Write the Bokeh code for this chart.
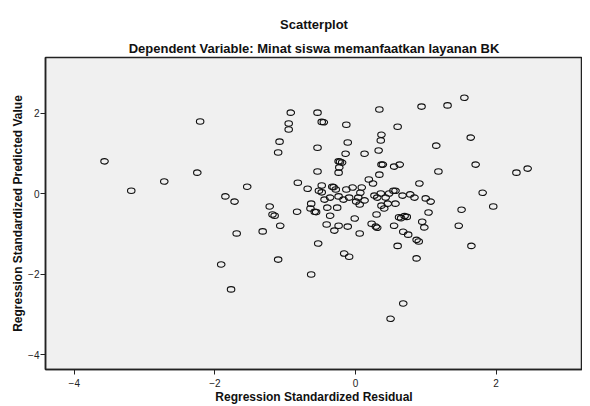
from bokeh.plotting import figure
from bokeh.models import Range1d, Title, FixedTicker, ColumnDataSource
from bokeh.embed import file_html
from bokeh.resources import INLINE

# Regression Standardized Residual (x) / Regression Standardized Predicted Value (y)
resid = [-2.21, -3.57, -3.19, -2.72, -2.25, -1.85, -1.72, -1.54, -1.69, -1.91, -1.77,
         -0.92, -0.54, 0.34, 0.94, -0.95, -0.95, -0.48, -0.45, -0.13, 0.60, 0.37, 0.36,
         -1.08, -0.11, -1.10, -0.54, -0.14, 0.13, 0.33, -0.24, -0.22, -0.19, 0.37, 0.39,
         -0.23, 0.55, 0.63, -0.24, -0.54, 0.34, 0.19, 0.25, 0.91, -0.82, -0.68, -0.48,
         -0.52, -0.48, -0.33, -0.31, -0.28, -0.13, -0.04, 0.09, 0.07, -0.44, -0.36, -0.24,
         -0.17, -0.09, 0.04, 0.01, 0.06, 0.13, 0.27, 0.31, 0.36, 0.43, 0.48, 0.54, 0.57,
         0.67, 0.78, 0.84, -0.63, -0.64, -0.58, -0.56, -0.40, -0.26, -0.36, -0.01, 0.30,
         0.37, 0.41, 0.46, 0.57, 0.62, 0.65, 0.70, 0.73, -1.22, -1.18, -1.15, -0.83, -1.07,
         -0.41, -0.24, -0.11, 0.23, 0.29, 0.31, 0.55, -1.32, -0.53, -1.10, -0.63, -0.16,
         -0.09, 0.06, -0.30, 0.68, 0.75, 0.60, 0.87, 0.90, 0.87, 0.68, 0.50, 0.95, 0.98,
         1.31, 1.55, 1.64, 1.15, 1.71, 1.18, 2.29, 2.45, 1.81, 1.00, 1.07, 1.96, 1.51,
         1.04, 1.47, 1.65]
pred = [1.79, 0.80, 0.07, 0.30, 0.52, -0.07, -0.20, 0.17, -0.99, -1.76, -2.38,
        2.01, 2.01, 2.09, 2.16, 1.74, 1.59, 1.78, 1.77, 1.71, 1.66, 1.46, 1.32,
        1.29, 1.27, 1.02, 1.14, 0.99, 0.99, 1.07, 0.80, 0.79, 0.77, 0.72, 0.72,
        0.65, 0.67, 0.72, 0.52, 0.55, 0.47, 0.35, 0.25, 0.25, 0.27, 0.12, 0.20,
        0.07, 0.03, 0.17, 0.16, 0.10, 0.10, 0.15, 0.15, 0.02, -0.15, -0.10, -0.07,
        -0.15, -0.10, -0.10, -0.20, -0.27, -0.17, -0.05, -0.10, 0.00, -0.10, 0.00, 0.07, 0.07,
        -0.05, -0.02, -0.10, -0.25, -0.37, -0.45, -0.46, -0.35, -0.35, -0.55, -0.62, -0.52,
        -0.30, -0.37, -0.25, -0.25, -0.59, -0.61, -0.56, -0.58, -0.32, -0.52, -0.55, -0.45, -0.80,
        -0.77, -0.80, -0.82, -0.75, -0.82, -0.85, -0.80, -0.94, -1.24, -1.64, -2.01, -1.49,
        -1.57, -0.99, -0.92, -0.95, -1.02, -1.30, -1.15, -1.19, -1.61, -2.73, -3.11, -0.70, -0.84,
        2.19, 2.38, 1.39, 1.19, 0.72, 0.55, 0.52, 0.62, 0.02, -0.12, -0.20, -0.32, -0.40,
        -0.47, -0.80, -1.30]
tick_values = [-4, -2, 0, 2]

FONT = "Liberation Sans"

p = figure(width=582, height=406, output_backend="svg", toolbar_location=None,
           x_range=Range1d(-4.41, 3.23), y_range=Range1d(-4.37, 3.38),
           min_border_left=45, min_border_right=0, min_border_top=57, min_border_bottom=37)

p.background_fill_color = "#f0f0f0"
p.border_fill_color = "white"
p.outline_line_color = "#222222"
p.outline_line_width = 1.5
p.xgrid.visible = False
p.ygrid.visible = False

p.title.text = "Scatterplot"
p.title.align = "center"
p.title.text_font = FONT
p.title.text_font_size = "13px"
p.title.text_font_style = "bold"
p.title.text_color = "#111111"
p.title.standoff = 9
sub = Title(text="Dependent Variable: Minat siswa memanfaatkan layanan BK", align="center",
            text_font=FONT, text_font_size="13px", text_font_style="bold",
            text_color="#111111", standoff=4)
p.add_layout(sub, "above")

for ax, lab in ((p.xaxis[0], "Regression Standardized Residual"),
                (p.yaxis[0], "Regression Standardized Predicted Value")):
    ax.axis_label = lab
    ax.axis_label_text_font = FONT
    ax.axis_label_text_font_size = "12px"
    ax.axis_label_text_font_style = "bold"
    ax.axis_label_text_color = "#111111"
    ax.major_label_text_font = FONT
    ax.major_label_text_font_size = "10px"
    ax.major_label_text_color = "#222222"
    ax.ticker = FixedTicker(ticks=tick_values)
    ax.minor_tick_line_color = None
    ax.major_tick_in = 0
    ax.major_tick_out = 5
    ax.major_tick_line_color = "#222222"
    ax.axis_line_color = "#222222"
    ax.axis_line_width = 1.5

p.xaxis.major_label_standoff = 4
p.xaxis.axis_label_standoff = 0
p.yaxis.major_label_standoff = 1
p.yaxis.axis_label_standoff = 0

src = ColumnDataSource(dict(x=resid, y=pred))
p.ellipse(x="x", y="y", width=7.5, height=5.5, width_units="screen", height_units="screen",
          source=src, fill_color=None, line_color="#111111", line_width=1.1)

open("out.html", "w").write(file_html(p, INLINE))
